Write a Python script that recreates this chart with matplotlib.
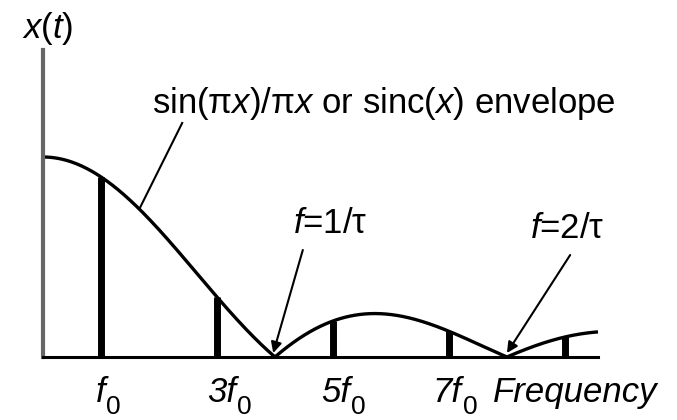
"""Line spectrum of a pulse train under its sinc envelope."""
import numpy as np
import matplotlib
matplotlib.use("Agg")
import matplotlib.pyplot as plt

plt.rcParams["font.family"] = ["Liberation Sans", "DejaVu Sans"]
plt.rcParams["mathtext.fontset"] = "custom"
plt.rcParams["mathtext.rm"] = "Liberation Sans"
plt.rcParams["mathtext.it"] = "Liberation Sans:italic"

# spectral lines (multiples of f0) and their heights
harmonics = [1, 3, 5, 7, 9]
harmonic_amp = [0.90, 0.30, 0.18, 0.13, 0.10]
tick_pos = [1, 3, 5, 7]
tick_main = ["f", "3f", "5f", "7f"]
first_null = 4      # f = 1/tau, in units of f0
f_max = 9.57

FS = 25
SUB_FS = 19
label_shift = [0.07, 0.33, 0.29, 0.22]   # where the subscript starts, per label

fig = plt.figure(figsize=(6.77, 4.2), dpi=100)
ax = fig.add_axes([43 / 677, 63 / 420, 555 / 677, 307 / 420])
ax.set_xlim(0, f_max)
ax.set_ylim(0, 1.535)

f = np.linspace(0, f_max, 800)
ax.plot(f, np.abs(np.sinc(f / first_null)), color="black", lw=2.4,
        solid_capstyle="butt", clip_on=False)
ax.vlines(harmonics, 0, harmonic_amp, color="black", lw=5)

for side in ("top", "right"):
    ax.spines[side].set_visible(False)
ax.spines["left"].set_color("#666666")
ax.spines["left"].set_linewidth(3)
ax.spines["bottom"].set_color("black")
ax.spines["bottom"].set_linewidth(2.2)
ax.set_xticks([])
ax.set_yticks([])

# axis labels
ax.text(-0.37, 1.595, "$x$($t$)", fontsize=FS, ha="left", va="baseline", clip_on=False)
for x, main, dx in zip(tick_pos, tick_main, label_shift):
    ax.text(x + dx, -0.225, main, fontsize=FS, style="italic",
            ha="right", va="baseline", clip_on=False)
    ax.text(x + dx + 0.02, -0.285, "0", fontsize=SUB_FS,
            ha="left", va="baseline", clip_on=False)
ax.text(7.76, -0.225, "Frequency", fontsize=FS, style="italic",
        ha="left", va="baseline", clip_on=False)

# envelope callout
ax.text(1.88, 1.22, "sin(π$x$)/π$x$ or sinc($x$) envelope", fontsize=FS,
        ha="left", va="baseline")
ax.plot([2.40, 1.67], [1.17, 0.745], color="black", lw=1.5)

# null markers
arrow = dict(arrowstyle="-|>", color="black", lw=1.5, mutation_scale=16,
             shrinkA=0, shrinkB=0)
ax.text(4.31, 0.62, "$f$=1/τ", fontsize=FS, ha="left", va="baseline")
ax.annotate("", xy=(3.97, 0.02), xytext=(4.48, 0.535), arrowprops=arrow)
ax.text(8.40, 0.595, "$f$=2/τ", fontsize=FS, ha="left", va="baseline")
ax.annotate("", xy=(8.0, 0.02), xytext=(9.09, 0.51), arrowprops=arrow)

fig.savefig("out.png", dpi=100, facecolor="white")
